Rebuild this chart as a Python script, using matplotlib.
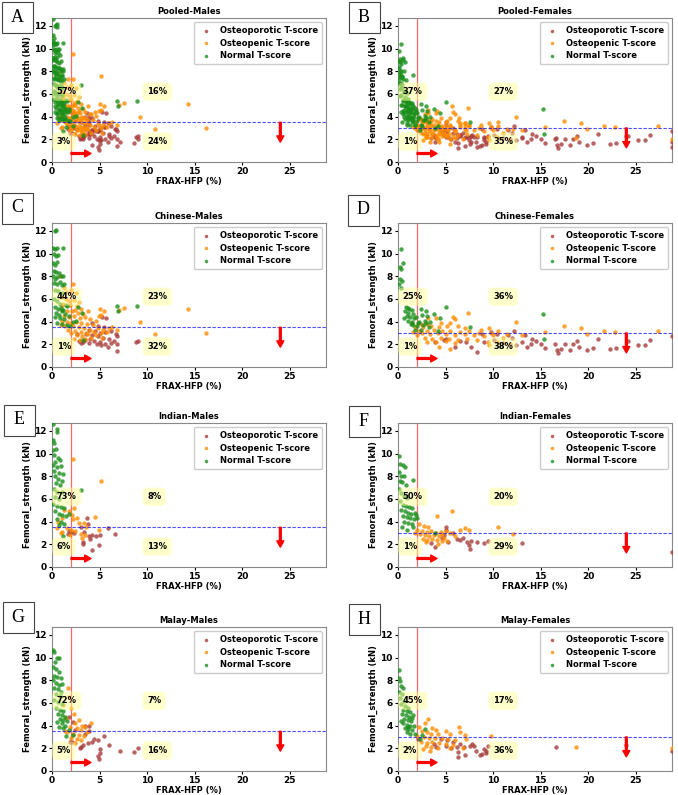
import numpy as np
import matplotlib.pyplot as plt
from matplotlib.patches import Rectangle

# ---- data: (FRAX-HFP %, femoral strength kN) ----
chm_normal = [(0.3,12.0),(0.45,12.1),(0.1,10.5),(0.3,10.4),(0.5,10.5),(1.2,10.5),(0.2,10.0),(0.4,9.8),(0.6,9.9),
              (0.1,9.2),(0.3,9.0),(0.5,9.3),(0.2,8.5),(0.4,8.4),(0.7,8.3),(0.1,8.0),(0.3,7.8),(0.5,7.9),(0.9,8.0),
              (1.2,8.0),(0.2,7.4),(0.5,7.3),(0.8,7.5),(1.0,7.2),(1.3,7.3),(0.3,6.8),(0.6,6.7),(1.1,6.5),(0.2,6.0),
              (0.5,5.8),(0.8,5.6),(1.5,5.5),(0.3,5.3),(0.6,5.1),(0.9,5.2),(1.2,5.0),(1.6,5.4),(0.4,4.8),(0.7,4.6),
              (1.0,4.9),(1.4,4.7),(0.3,4.4),(0.8,4.3),(1.3,4.2),(1.8,4.5),(0.5,3.9),(1.1,3.8),(1.6,3.7),(2.2,4.0),
              (3.2,4.8),(2.7,5.3),(6.8,5.4),(6.9,4.9),(8.9,5.4),(2.5,4.1),(1.9,3.6),(3.3,2.4)]
chm_penic = [(2.2,7.3),(2.0,6.8),(1.6,6.6),(2.5,6.5),(0.8,8.0),(1.0,6.2),(1.5,6.0),(2.3,5.9),(2.8,5.7),(1.2,5.6),
             (1.9,5.5),(2.6,5.4),(3.0,5.1),(1.0,5.0),(1.6,4.9),(2.1,4.9),(2.7,4.8),(3.3,4.7),(5.0,5.1),(5.5,4.9),
             (5.2,4.6),(1.3,4.5),(1.8,4.4),(2.3,4.5),(2.9,4.3),(3.5,4.4),(4.0,4.2),(4.6,4.1),(1.1,4.1),(1.6,4.0),
             (2.0,3.9),(2.5,4.0),(3.1,3.9),(3.7,3.8),(4.3,3.7),(0.9,3.7),(1.4,3.6),(2.2,3.6),(2.8,3.5),(3.4,3.4),
             (4.0,3.3),(4.8,3.4),(5.4,3.3),(6.0,3.4),(1.7,3.3),(2.4,3.2),(3.0,3.1),(3.6,3.0),(4.4,3.1),(5.1,3.0),
             (5.8,3.1),(2.0,3.0),(2.6,2.8),(3.2,2.7),(3.8,2.9),(4.6,2.8),(5.3,2.6),(2.3,2.5),(2.9,2.4),(3.5,2.5),
             (4.1,2.6),(7.6,5.2),(7.0,5.0),(9.2,4.0),(10.8,2.9),(14.3,5.1),(16.2,3.0),(6.3,3.5),(6.8,3.3),(4.9,4.5),
             (3.8,4.9),(2.4,5.0),(1.8,5.8),(1.3,7.0),(1.1,5.5)]
chm_porotic = [(5.3,4.4),(5.7,4.3),(4.2,3.9),(4.8,3.6),(5.5,3.5),(3.9,3.3),(4.5,3.2),(5.0,3.0),(5.6,3.1),(6.2,3.2),
               (6.7,2.9),(3.6,2.9),(4.2,2.8),(4.8,2.7),(5.4,2.6),(6.0,2.5),(6.8,2.7),(2.8,2.3),(3.3,2.2),(3.9,2.1),
               (4.4,2.3),(5.0,2.2),(5.6,2.0),(6.2,2.1),(6.8,2.0),(4.7,2.0),(5.9,1.8),(6.8,1.4),(8.8,2.2),(9.0,2.3),
               (3.0,2.1),(4.0,2.5),(3.5,2.4),(2.6,2.9),(6.5,2.3),(5.2,1.9)]

inm_normal = [(0.15,12.6),(0.5,12.2),(0.5,11.9),(0.1,11.2),(0.25,10.9),(0.1,10.3),(0.4,10.4),(0.2,9.9),(0.6,9.6),
              (0.3,9.3),(0.8,9.4),(0.1,9.0),(0.5,8.8),(0.9,8.9),(0.2,8.5),(0.7,8.3),(1.2,8.2),(0.3,8.0),(0.6,7.8),
              (1.0,7.6),(0.4,7.4),(0.8,7.2),(0.2,6.9),(0.5,6.6),(1.1,6.6),(0.3,6.2),(0.7,6.0),(0.1,5.6),(0.5,5.4),
              (0.9,5.3),(1.3,5.2),(0.3,4.9),(0.7,4.7),(1.1,4.6),(1.5,4.5),(0.5,4.2),(0.9,4.0),(1.3,3.8),(0.7,3.7),
              (1.2,2.7),(1.8,4.7),(3.0,6.8)]
inm_penic = [(2.2,9.5),(5.1,7.6),(2.3,5.2),(2.1,4.6),(2.6,4.3),(1.8,4.9),(0.6,4.0),(1.0,4.3),(1.6,3.4),(2.0,3.3),
             (2.4,3.2),(0.5,3.4),(1.0,3.1),(1.9,2.8),(2.8,3.9),(3.4,3.9),(3.6,3.5),(3.0,2.9),(3.2,2.6),(3.5,2.8),
             (4.5,4.4),(4.9,3.3),(2.2,4.2),(1.3,5.0),(0.9,3.0)]
inm_porotic = [(3.7,4.3),(3.8,3.8),(5.9,3.4),(3.1,3.5),(2.0,3.1),(1.7,2.9),(3.4,3.1),(3.9,2.7),(4.2,2.8),(3.3,2.2),
               (3.3,2.0),(4.6,2.7),(5.0,2.8),(6.6,2.9),(4.2,1.5),(4.9,1.9),(4.0,2.5),(2.3,3.0),(1.8,3.2)]

mam_normal = [(0.1,10.7),(0.2,10.5),(0.5,10.0),(0.7,10.0),(0.3,9.6),(0.1,9.2),(0.4,9.0),(0.7,8.7),(0.2,8.4),
              (0.5,8.3),(0.9,8.2),(0.1,8.0),(0.4,7.8),(0.7,7.6),(1.0,7.7),(0.2,7.3),(0.6,7.2),(0.9,7.0),(0.4,6.8),
              (0.8,6.6),(0.2,6.3),(0.6,6.1),(1.0,5.9),(0.4,5.6),(0.8,5.4),(1.2,5.3),(0.6,5.0),(1.0,4.9),(1.4,4.8),
              (0.8,4.6),(1.2,4.5),(1.6,4.4),(0.5,4.3),(1.0,4.2),(1.4,4.0),(0.7,3.9),(1.2,3.8),(1.8,3.6),(1.5,3.1),
              (2.2,3.2)]
mam_penic = [(1.7,7.3),(1.8,6.5),(1.2,5.8),(2.0,5.6),(2.3,5.0),(1.5,4.7),(2.8,4.5),(2.4,4.2),(3.2,4.0),(4.1,4.2),
             (1.9,3.9),(2.6,3.8),(3.0,3.6),(3.7,3.4),(1.6,3.4),(2.2,3.3),(2.8,3.2),(3.4,3.1),(2.0,2.9),(2.6,2.8),
             (3.1,2.7),(2.4,2.5),(1.4,3.5),(3.5,3.9)]
mam_porotic = [(1.8,4.8),(2.2,4.3),(3.5,4.0),(3.9,4.0),(2.4,3.6),(3.9,3.5),(3.5,3.3),(5.5,3.1),(4.4,2.8),(4.8,2.7),
               (3.8,2.5),(4.2,2.6),(3.3,2.3),(3.1,2.1),(2.9,2.0),(6.0,2.3),(5.0,1.9),(5.0,1.6),(4.8,1.3),(4.9,1.1),
               (7.1,1.8),(8.6,1.7),(9.0,2.0),(1.9,2.6),(2.1,2.6)]

chf_normal = [(0.3,10.4),(0.5,9.2),(0.2,8.8),(0.3,8.6),(0.2,7.8),(0.4,7.6),(0.1,7.3),(0.3,7.0),(0.8,5.3),(1.0,5.2),
              (1.2,5.1),(1.5,5.0),(0.7,4.9),(1.1,4.8),(1.6,4.7),(2.4,5.1),(2.9,4.9),(0.9,4.5),(1.3,4.4),(1.9,4.4),
              (2.5,4.6),(3.1,4.5),(3.8,4.7),(1.1,4.1),(1.5,4.0),(2.2,4.0),(2.8,4.1),(3.4,4.0),(4.4,4.3),(1.6,3.7),
              (2.0,3.6),(2.6,3.7),(3.3,3.5),(5.0,5.3),(1.8,3.3),(2.4,3.3),(2.1,3.9),(15.2,4.7),(15.3,2.5),(4.2,3.2),
              (7.6,3.5),(1.4,3.8),(0.6,4.3),(1.7,4.3),(2.9,3.9)]
chf_penic = [(7.4,4.8),(5.8,4.4),(6.0,4.2),(4.0,4.3),(3.2,4.3),(1.5,3.9),(2.4,3.8),(3.0,3.8),(4.5,3.9),(5.5,3.9),
             (12.4,4.0),(1.8,3.5),(2.6,3.5),(3.5,3.6),(4.3,3.5),(5.2,3.6),(6.3,3.6),(7.0,3.4),(9.6,3.4),(10.5,3.2),
             (2.2,3.2),(3.0,3.2),(3.8,3.3),(4.6,3.2),(5.5,3.2),(6.5,3.1),(7.5,3.2),(8.5,3.0),(2.5,3.0),(3.4,2.9),
             (4.2,3.0),(5.0,2.9),(6.0,2.8),(7.0,2.9),(8.0,2.8),(9.0,2.7),(10.0,2.8),(11.0,2.6),(2.8,2.6),(3.6,2.5),
             (4.5,2.6),(5.4,2.5),(6.3,2.4),(7.3,2.5),(8.3,2.4),(9.5,2.2),(10.4,2.2),(3.1,2.2),(4.0,2.2),(5.0,2.3),
             (6.0,2.1),(4.3,1.8),(5.5,1.6),(9.6,1.9),(15.4,3.1),(17.5,3.6),(19.2,3.4),(19.9,2.9),(21.6,3.2),
             (22.8,3.1),(27.3,3.2),(11.5,2.9),(13.0,2.8),(2.0,2.8),(1.6,3.1),(8.7,3.3),(9.8,3.0)]
chf_porotic = [(9.8,3.1),(10.4,2.9),(11.6,2.8),(12.2,3.2),(13.3,2.8),(14.1,2.5),(5.0,2.5),(6.5,2.3),(7.2,2.2),
               (7.7,1.8),(8.3,1.3),(9.0,2.2),(10.1,2.4),(11.0,2.1),(11.8,2.0),(12.4,1.9),(13.0,2.2),(13.6,1.8),
               (14.0,2.0),(14.5,2.3),(15.0,2.0),(15.5,1.7),(16.5,2.0),(16.7,1.5),(16.8,1.2),(17.1,1.6),(17.6,2.0),
               (18.1,1.5),(18.4,2.0),(18.8,2.3),(19.0,1.8),(19.9,1.5),(20.5,1.7),(21.0,2.5),(22.3,1.6),(22.9,1.7),
               (24.2,2.3),(25.2,1.9),(26.0,1.9),(26.5,2.4),(28.8,2.7),(12.0,2.6),(3.9,2.2),(6.0,1.8),(8.8,2.9),
               (4.8,2.4)]

inf_normal = [(0.1,9.8),(0.2,9.1),(0.5,9.0),(0.7,8.8),(0.1,8.4),(0.3,8.0),(0.6,8.0),(0.2,7.6),(0.4,7.5),(0.8,7.2),
              (1.6,7.7),(0.1,6.9),(0.3,6.5),(0.6,6.3),(0.9,6.1),(0.2,5.8),(0.5,5.5),(0.8,5.4),(1.2,5.3),(1.5,5.2),
              (0.3,5.0),(0.7,4.9),(1.0,4.8),(1.4,4.7),(1.8,4.8),(0.5,4.5),(0.9,4.4),(1.3,4.3),(1.7,4.2),(2.0,4.3),
              (0.6,4.0),(1.1,3.9),(1.5,3.8),(0.4,3.5),(0.9,3.3),(1.6,3.5),(3.9,3.0),(1.9,4.6)]
inf_penic = [(5.7,4.9),(4.1,4.5),(2.2,3.8),(2.7,3.6),(3.2,3.5),(2.0,3.3),(2.5,3.2),(3.0,3.1),(3.5,3.2),(4.0,3.0),
             (4.5,3.1),(5.0,3.2),(5.5,3.0),(6.5,3.3),(7.0,3.4),(7.5,3.3),(10.5,3.5),(12.1,2.9),(2.3,2.9),(2.8,2.8),
             (3.3,2.7),(3.8,2.8),(4.3,2.7),(4.8,2.6),(2.6,2.5),(3.1,2.4),(3.6,2.5),(4.1,2.4),(4.6,2.3),(5.1,2.3),
             (2.9,2.2),(4.2,2.0),(6.0,2.7),(1.8,3.0),(4.6,2.9)]
inf_porotic = [(5.0,3.5),(5.0,3.3),(5.8,3.0),(4.8,2.8),(6.2,2.5),(6.5,2.4),(7.3,2.2),(7.7,2.3),(8.3,2.2),(9.0,2.1),
               (9.5,2.3),(7.5,1.9),(7.6,1.6),(3.5,2.1),(3.9,1.8),(5.3,2.2),(13.0,2.1),(28.8,1.3),(4.6,2.6),(6.8,2.6)]

maf_normal = [(0.1,8.9),(0.1,8.2),(0.2,7.9),(0.3,7.5),(0.5,7.3),(0.1,7.0),(0.4,6.8),(0.2,6.4),(0.6,6.2),(0.3,5.9),
              (0.7,5.7),(1.0,5.6),(0.5,5.4),(0.9,5.3),(1.3,5.2),(0.4,5.0),(0.8,4.9),(1.2,4.8),(1.6,4.9),(0.6,4.6),
              (1.0,4.5),(1.4,4.4),(0.5,4.2),(0.9,4.1),(1.3,4.0),(1.7,4.0),(0.7,3.8),(1.1,3.7),(1.5,3.6),(0.9,3.4),
              (1.3,3.3),(1.8,3.3),(2.5,3.2),(2.8,3.7),(2.3,2.8),(1.0,3.9),(1.5,4.7),(0.3,4.4)]
maf_penic = [(3.2,4.6),(2.8,4.2),(6.4,3.9),(5.0,3.5),(2.2,3.9),(3.6,3.8),(4.0,3.6),(2.5,3.5),(3.0,3.4),(3.5,3.3),
             (4.2,3.3),(5.5,3.3),(6.5,3.4),(7.0,3.2),(2.0,3.1),(2.7,3.0),(3.3,2.9),(3.9,2.9),(4.6,2.9),(5.3,2.8),
             (6.0,2.7),(7.2,2.8),(9.8,3.1),(2.4,2.6),(3.0,2.5),(3.6,2.6),(4.3,2.5),(5.0,2.4),(5.8,2.3),(2.9,2.2),
             (3.5,2.1),(4.2,2.0),(5.5,2.0),(2.6,1.9),(6.8,2.0),(18.7,2.1),(28.8,2.0),(3.4,1.8)]
maf_porotic = [(2.1,2.8),(3.8,2.4),(4.5,2.8),(5.2,2.7),(5.8,2.6),(5.0,2.2),(5.6,2.0),(6.2,2.1),(6.3,1.7),(6.3,1.2),
               (6.9,2.1),(7.0,1.4),(7.6,2.2),(7.8,2.4),(8.0,2.2),(8.2,1.8),(8.6,1.4),(8.8,1.5),(9.0,1.9),(9.2,1.8),
               (9.5,2.2),(9.2,1.6),(16.6,2.1),(24.0,2.3),(28.8,1.8),(4.0,2.1),(6.5,2.4)]

titles = ['Pooled-Males', 'Pooled-Females', 'Chinese-Males', 'Chinese-Females',
          'Indian-Males', 'Indian-Females', 'Malay-Males', 'Malay-Females']
letters = ['A', 'B', 'C', 'D', 'E', 'F', 'G', 'H']
# quadrant percentages: upper-left, upper-right, lower-left, lower-right
pcts = [['57%', '16%', '3%', '24%'], ['37%', '27%', '1%', '35%'],
        ['44%', '23%', '1%', '32%'], ['25%', '36%', '1%', '38%'],
        ['73%', '8%', '6%', '13%'], ['50%', '20%', '1%', '29%'],
        ['72%', '7%', '5%', '16%'], ['45%', '17%', '2%', '36%']]
frax_cut = 2.0
strength_cut = [3.5, 3.0, 3.5, 3.0, 3.5, 3.0, 3.5, 3.0]

groups = {
    'Chinese-Males': (chm_porotic, chm_penic, chm_normal),
    'Indian-Males': (inm_porotic, inm_penic, inm_normal),
    'Malay-Males': (mam_porotic, mam_penic, mam_normal),
    'Chinese-Females': (chf_porotic, chf_penic, chf_normal),
    'Indian-Females': (inf_porotic, inf_penic, inf_normal),
    'Malay-Females': (maf_porotic, maf_penic, maf_normal),
}
# pooled = all three ethnic groups together
for sex in ['Males', 'Females']:
    parts = [groups[e + '-' + sex] for e in ['Chinese', 'Indian', 'Malay']]
    groups['Pooled-' + sex] = tuple(sum((p[k] for p in parts), []) for k in range(3))

labels = ['Osteoporotic T-score', 'Osteopenic T-score', 'Normal T-score']
colors = ['#a83c3c', 'darkorange', '#1a8f1a']

W, H = 678, 795
lefts = [52, 398]
tops = [18, 223, 423, 627]
aw, ah = 274, 144
# letter-box centres in pixels
box_xy = [(17, 17), (364, 17), (17, 208), (363, 210), (19, 420), (364, 421), (18, 617), (364, 619)]

fig = plt.figure(figsize=(W / 100, H / 100), dpi=100)

for i, name in enumerate(titles):
    r, c = divmod(i, 2)
    ax = fig.add_axes([lefts[c] / W, 1 - (tops[r] + ah) / H, aw / W, ah / H])
    for pts, lab, col in zip(groups[name], labels, colors):
        arr = np.array(pts)
        ax.scatter(arr[:, 0], arr[:, 1], s=10, color=col, alpha=0.8, lw=0, label=lab, zorder=3)
    cut = strength_cut[i]
    ax.axvline(frax_cut, color='red', lw=0.9, alpha=0.6, zorder=2)
    ax.axhline(cut, color='blue', lw=0.8, ls=(0, (3, 1.5)), alpha=0.7, zorder=4)
    ap = dict(facecolor='red', edgecolor='red', width=1.3, headwidth=5, headlength=4.5)
    ax.annotate('', xy=(4.1, 0.75), xytext=(frax_cut, 0.75), arrowprops=ap, zorder=5)
    ax.annotate('', xy=(24, cut - 1.75), xytext=(24, cut), arrowprops=ap, zorder=5)
    # pale yellow box, semi transparent so points show through
    bb = dict(boxstyle='round,pad=0.55', fc=(1, 1, 0.6), alpha=0.5, ec='none')
    for (tx, ty), s in zip([(0.5, 6.2), (10, 6.2), (0.5, 1.8), (10, 1.8)], pcts[i]):
        ax.text(tx, ty, s, fontsize=6, fontweight='bold', va='center', ha='left', bbox=bb, zorder=5)
    ax.set_xlim(0, 28.8)
    ax.set_ylim(0, 12.7)
    ax.set_xticks([0, 5, 10, 15, 20, 25])
    ax.set_yticks([0, 2, 4, 6, 8, 10, 12])
    ax.tick_params(labelsize=6.5, length=2.5, pad=1.2)
    for t in ax.get_xticklabels() + ax.get_yticklabels():
        t.set_fontweight('bold')
    for sp in ax.spines.values():
        sp.set_color('#888888')
    ax.set_title(name, fontsize=6, fontweight='bold', pad=3)
    ax.set_xlabel('FRAX-HFP (%)', fontsize=6, fontweight='bold', labelpad=0.5)
    ax.set_ylabel('Femoral_strength (kN)', fontsize=6, fontweight='bold', labelpad=1.5)
    leg = ax.legend(loc='upper right', prop={'size': 6, 'weight': 'bold'}, markerscale=0.8,
                    handletextpad=0.6, borderpad=0.5, labelspacing=0.4, framealpha=1)
    leg.set_zorder(6)

    bx, by = box_xy[i]
    fig.patches.append(Rectangle(((bx - 15.5) / W, 1 - (by + 15.5) / H), 31 / W, 31 / H,
                                 transform=fig.transFigure, fc='white', ec='#444444', lw=0.8))
    fig.text(bx / W, 1 - by / H, letters[i], fontsize=13, family='Liberation Serif',
             ha='center', va='center')

fig.savefig('out.png', dpi=100)
